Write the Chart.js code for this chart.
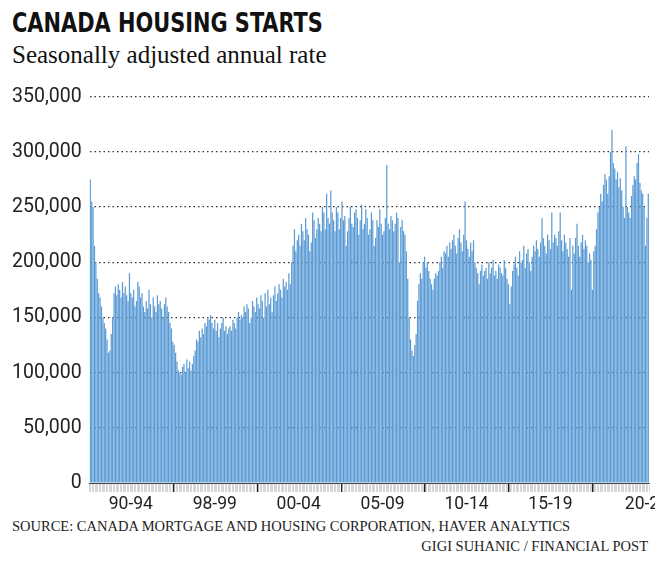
<!DOCTYPE html>
<html>
<head>
<meta charset="utf-8">
<script src="https://cdn.jsdelivr.net/npm/chart.js@4/dist/chart.umd.min.js"></script>
<style>
  body { margin: 0; width: 660px; height: 562px; background: #fff; position: relative; overflow: hidden; }
  #title { position: absolute; left: 12px; top: 7px; font: bold 27px "Liberation Sans Narrow", "DejaVu Sans Condensed", sans-serif; color: #111; transform: scaleX(0.86); transform-origin: left top; }
  #subtitle { position: absolute; left: 12px; top: 41px; font: 25px "Liberation Serif", serif; color: #111; }
  #wrap { position: absolute; left: 0; top: 77px; width: 655px; height: 440px; }
  #source { position: absolute; left: 12px; top: 518px; font: 14.5px "Liberation Serif", serif; color: #222; }
  #credit { position: absolute; right: 12px; top: 538px; font: 14.5px "Liberation Serif", serif; color: #222; }
</style>
</head>
<body>
<div id="title">CANADA HOUSING STARTS</div>
<div id="subtitle">Seasonally adjusted annual rate</div>
<div id="wrap"><canvas id="starts"></canvas></div>
<div id="source">SOURCE: CANADA MORTGAGE AND HOUSING CORPORATION, HAVER ANALYTICS</div>
<div id="credit">GIGI SUHANIC / FINANCIAL POST</div>
<script>
// monthly starts, thousands of units
const starts = [
  275,255,250,215,200,185,172,168,160,150,145,140,130,118,120,135,150,172,178,170,
  180,175,168,182,172,178,170,165,190,172,168,175,160,165,182,178,168,172,160,155,
  165,158,175,162,150,168,160,155,170,162,165,158,150,162,168,160,155,145,140,128,
  125,118,110,102,100,98,105,108,100,112,104,110,102,108,115,120,130,128,138,132,
  140,135,145,142,150,148,152,145,140,148,138,145,132,140,145,150,138,142,135,140,
  142,138,148,145,140,150,155,148,152,150,160,155,162,158,145,150,165,160,155,168,
  162,158,170,165,150,172,160,175,162,168,155,170,178,165,172,180,175,168,185,178,
  182,175,190,180,200,215,230,210,220,225,215,235,228,220,240,230,225,210,218,245,
  238,222,230,240,235,228,250,245,230,262,240,235,265,245,238,228,250,245,230,240,
  255,238,242,215,228,240,250,235,232,245,248,240,225,238,252,230,235,248,240,225,
  230,245,238,215,222,238,232,248,235,225,228,240,288,235,230,242,238,228,235,245,
  240,200,232,238,228,225,210,185,150,130,120,115,125,135,165,180,190,185,200,205,
  195,200,192,185,180,175,185,190,188,192,200,205,195,210,208,215,205,218,212,220,
  225,215,208,222,230,218,210,225,255,220,212,205,218,210,220,200,195,190,180,192,
  198,188,192,195,185,200,190,195,202,188,192,185,198,195,190,188,202,195,185,180,
  162,178,192,198,205,195,188,210,200,202,215,195,208,212,200,192,205,215,210,220,
  212,205,218,240,222,215,208,225,220,212,245,218,225,222,215,228,245,220,210,225,
  218,212,205,222,175,215,208,222,235,215,205,218,225,212,220,215,200,208,202,175,
  210,215,230,245,250,262,255,270,280,275,262,278,300,320,290,285,275,282,268,276,
  265,250,240,305,250,245,240,260,270,278,275,290,298,272,265,262,250,215,240,262
];
const periodLabels = ['90-94', '98-99', '00-04', '05-09', '10-14', '15-19', '20-23'];
const yTicks = [0, 50, 100, 150, 200, 250, 300, 350];

const SEG = 60, FIRST = 59;
const months = starts.map((_, i) => i);

function labelFor(i) {
  const k = (i - (FIRST - 30)) / SEG;
  if (Number.isInteger(k) && k >= 0 && k < 6) return periodLabels[k];
  if (i === Math.round((FIRST + 6 * SEG + starts.length) / 2) - 12) return periodLabels[6];
  return '';
}

const isMajor = i => i > 0 && (i - FIRST - 1) % SEG === 0;

new Chart(document.getElementById('starts'), {
  type: 'bar',
  data: {
    labels: months,
    datasets: [{
      data: starts,
      backgroundColor: '#5b9bd5',
      barPercentage: 1,
      categoryPercentage: 0.88
    }]
  },
  options: {
    responsive: true,
    maintainAspectRatio: false,
    animation: false,
    layout: { padding: { top: 6, right: 6, left: 4 } },
    plugins: { legend: { display: false }, tooltip: { enabled: false } },
    scales: {
      y: {
        min: 0, max: 350,
        afterBuildTicks: axis => { axis.ticks = yTicks.map(v => ({ value: v })); },
        border: { display: false, dash: [1.5, 3] },
        grid: { color: ctx => ctx.tick && ctx.tick.value === 0 ? 'rgba(0,0,0,0)' : '#333', lineWidth: 1.2, drawTicks: false },
        ticks: {
          padding: 8,
          color: '#222',
          font: { family: 'Roboto', size: 19.5 },
          callback: v => (v * 1000).toLocaleString('en-US')
        }
      },
      x: {
        border: { color: '#444', width: 1 },
        grid: {
          drawOnChartArea: false,
          offset: true,
          tickLength: 9,
          color: ctx => isMajor(ctx.index) ? '#222' : '#bbb',
          lineWidth: ctx => isMajor(ctx.index) ? 1.5 : 0.6
        },
        ticks: {
          autoSkip: false,
          maxRotation: 0,
          padding: 2,
          color: '#222',
          font: { family: 'Roboto', size: 17.5 },
          callback: (v, i) => labelFor(i)
        }
      }
    }
  }
});
</script>
</body>
</html>
